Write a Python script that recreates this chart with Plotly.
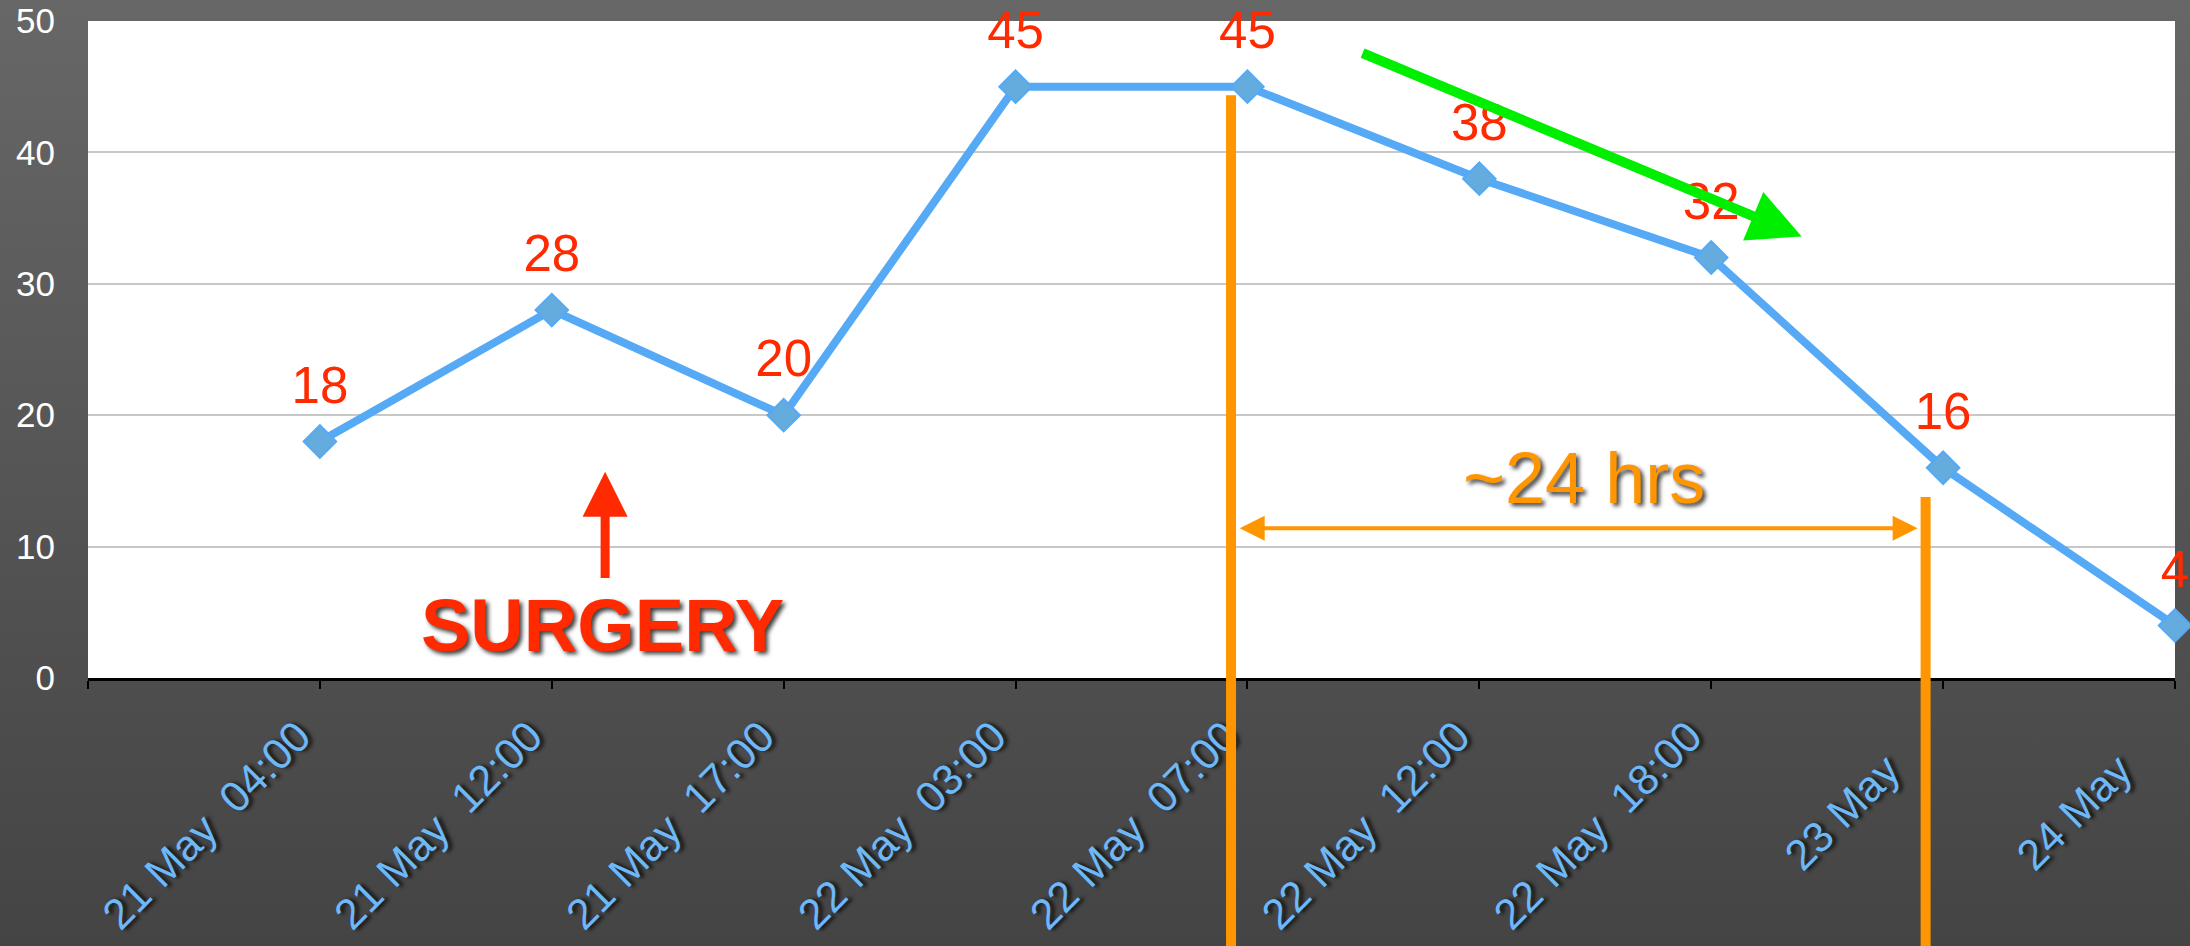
import plotly.graph_objects as go

# ---- data ----
time_labels = ["21 May  04:00", "21 May  12:00", "21 May  17:00", "22 May  03:00",
               "22 May  07:00", "22 May  12:00", "22 May  18:00", "23 May", "24 May"]
values = [18, 28, 20, 45, 45, 38, 32, 16, 4]
y_ticks = [0, 10, 20, 30, 40, 50]

x_pos = list(range(1, len(values) + 1))
tick_vals = [0] + x_pos


def fmt_tick(t):
    t = t.replace("  ", "\u00a0 ")
    # short date-only labels sit a little lower along the diagonal
    if ":" not in t:
        t = t + "\u00a0" * 4
    return t


tick_text = [""] + [fmt_tick(t) for t in time_labels]

FONT = "Liberation Sans, Arial, Helvetica, sans-serif"
SHADOW = "3px 3px 4px rgba(0,0,0,0.75)"

fig = go.Figure()
# line + diamond markers
fig.add_trace(go.Scatter(
    x=x_pos, y=values,
    mode="lines+markers",
    line=dict(color="#55a9f5", width=8),
    marker=dict(symbol="diamond", size=25, color="#63acdd",
                line=dict(color="#55a9f5", width=2)),
    cliponaxis=False, showlegend=False, hoverinfo="skip",
))
# value labels (transparent larger markers give the label offset)
fig.add_trace(go.Scatter(
    x=x_pos, y=values,
    mode="markers+text",
    text=[str(v) for v in values],
    textposition="top center",
    textfont=dict(family=FONT, size=51, color="#ff2a00"),
    marker=dict(size=40, color="rgba(0,0,0,0)"),
    cliponaxis=False, showlegend=False, hoverinfo="skip",
))

fig.update_layout(
    width=2190, height=946,
    margin=dict(l=88, r=15, t=21, b=268),
    paper_bgcolor="rgba(0,0,0,0)",
    plot_bgcolor="#ffffff",
    font=dict(family=FONT),
    xaxis=dict(
        range=[0, 9], tickmode="array", tickvals=tick_vals, ticktext=tick_text,
        tickangle=-45, tickfont=dict(family=FONT, size=43, color="#6cb8f8", shadow=SHADOW),
        showgrid=False, zeroline=False,
        showline=True, linecolor="#000000", linewidth=3,
        ticks="outside", ticklen=8, tickwidth=2, tickcolor="#000000",
        ticklabelstandoff=5, ticklabelshift=-22, automargin=False,
    ),
    yaxis=dict(
        range=[0, 50], tickmode="array", tickvals=y_ticks,
        tickfont=dict(family=FONT, size=35, color="#ffffff"),
        showgrid=True, gridcolor="#c8c8c8", gridwidth=1.5,
        zeroline=False, showline=False, ticks="",
        ticklabelstandoff=32, automargin=False,
    ),
    shapes=[
        dict(type="line", xref="paper", yref="paper", x0=0.5477, x1=0.5477, y0=-0.45, y1=0.887,
             line=dict(color="#ff9500", width=10), layer="above"),
        dict(type="line", xref="paper", yref="paper", x0=0.8805, x1=0.8805, y0=-0.45, y1=0.2755,
             line=dict(color="#ff9500", width=10), layer="above"),
    ],
    annotations=[
        # surgery label and arrow
        dict(x=2.22, y=4.0, xref="x", yref="y", text="<b>SURGERY</b>", showarrow=False,
             font=dict(family=FONT, size=74, color="#ff2a00", shadow=SHADOW)),
        dict(x=2.23, y=15.7, ax=2.23, ay=7.5, xref="x", yref="y", axref="x", ayref="y",
             text="", showarrow=True, arrowhead=2, arrowwidth=9, arrowsize=1.0,
             arrowcolor="#ff2a00", standoff=0),
        # ~24 hrs
        dict(x=6.45, y=15.2, xref="x", yref="y", text="~24 hrs", showarrow=False,
             font=dict(family=FONT, size=72, color="#ff9500", shadow=SHADOW)),
        dict(x=7.89, y=11.4, ax=4.96, ay=11.4, xref="x", yref="y", axref="x", ayref="y",
             text="", showarrow=True, arrowhead=2, arrowside="end+start", arrowwidth=4,
             arrowsize=1.25, arrowcolor="#ff9500", standoff=0, startstandoff=0),
        # green trend arrow
        dict(x=7.39, y=33.6, ax=5.49, ay=47.6, xref="x", yref="y", axref="x", ayref="y",
             text="", showarrow=True, arrowhead=2, arrowwidth=10, arrowsize=1.05,
             arrowcolor="#00ee00", standoff=0),
    ],
)

fig.write_html(
    "out.html",
    config={"displayModeBar": False},
    post_script=(
        "document.body.style.margin='0';"
        "document.documentElement.style.background="
        "'linear-gradient(to bottom, #676767 0%, #575757 45%, #444444 100%)';"
        "document.body.style.background='transparent';"
    ),
)
